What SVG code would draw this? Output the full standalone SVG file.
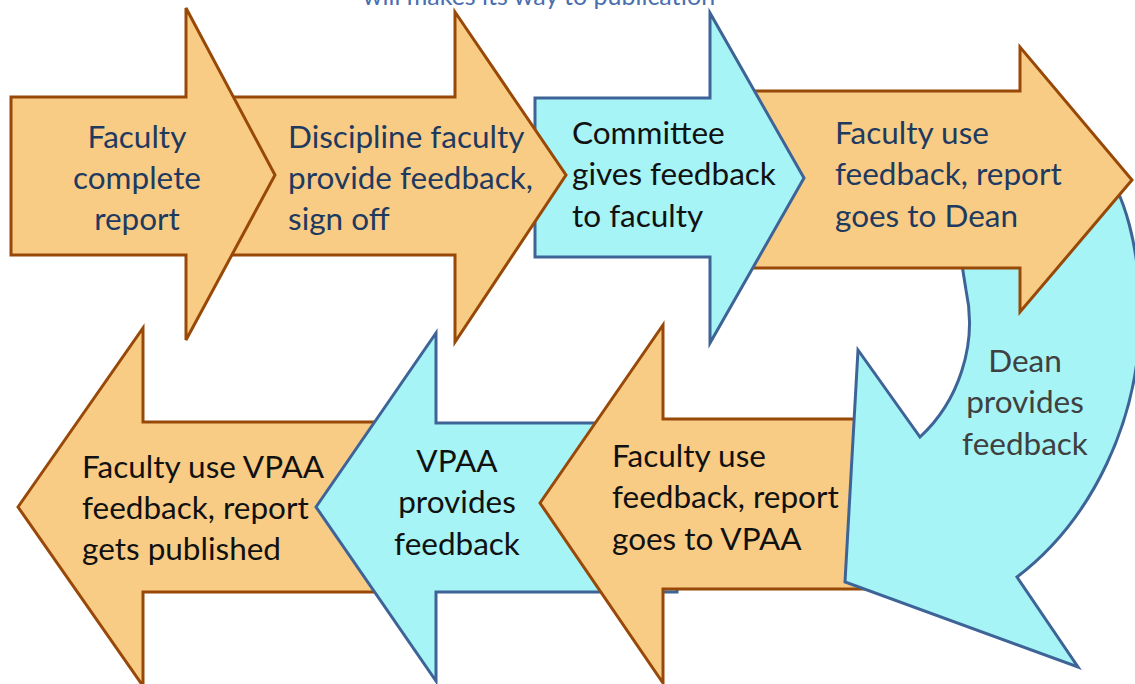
<svg xmlns="http://www.w3.org/2000/svg" width="1135" height="684" viewBox="0 0 1135 684">
<style>
.o{fill:#F9CC86;stroke:#984807;stroke-width:3;stroke-linejoin:miter}
.c{fill:#A6F4F5;stroke:#3E6497;stroke-width:3;stroke-linejoin:miter}
text{font-family:Lato,"Liberation Sans",sans-serif;font-size:31.5px}
.n{fill:#1F3A5F}
.k{fill:#111111}
.g{fill:#404040}
.m{text-anchor:middle}
</style>
<rect width="1135" height="684" fill="#FFFFFF"/>
<text x="539" y="5" fill="#4A6FAE" style="font-size:25px" text-anchor="middle">will makes its way to publication</text>
<g id="connectors"></g>
<g id="n5">
<path class="o" d="M18,507 L143,328 L143,422 L400,422 L400,592 L143,592 L143,686 Z"/>
<text class="k" x="82"><tspan x="82" y="478">Faculty use VPAA</tspan><tspan x="82" y="519">feedback, report</tspan><tspan x="82" y="560">gets published</tspan></text>
</g>
<g id="n6">
<path class="c" d="M316,507 L436,333 L436,423 L677,423 L677,592 L436,592 L436,681 Z"/>
<text class="k m"><tspan x="457" y="472">VPAA</tspan><tspan x="457" y="513">provides</tspan><tspan x="457" y="555">feedback</tspan></text>
</g>
<g id="n7">
<path class="o" d="M540,503 L663,325 L663,419 L880,419 L880,589 L663,589 L663,683 Z"/>
<text class="k"><tspan x="612" y="467">Faculty use</tspan><tspan x="612" y="508">feedback, report</tspan><tspan x="612" y="550">goes to VPAA</tspan></text>
</g>
<g id="n_dean">
<path class="c" d="M1017,577 L1078,667 L845,582 L858,350 L920,437 C958,402 978,345 966,290 L958,240 L1060,150 L1100,165 C1125,190 1140,250 1140,315 C1140,420 1092,520 1017,577 Z"/>
<text class="g m"><tspan x="1025" y="372">Dean</tspan><tspan x="1025" y="413">provides</tspan><tspan x="1025" y="455">feedback</tspan></text>
</g>
<g id="n4">
<path class="o" d="M740,91 L1020,91 L1020,47 L1132,180 L1020,312 L1020,268 L740,268 Z"/>
<text class="n"><tspan x="835" y="144">Faculty use</tspan><tspan x="835" y="185">feedback, report</tspan><tspan x="835" y="227">goes to Dean</tspan></text>
</g>
<g id="n3">
<path class="c" d="M535,98 L710,98 L710,13 L804,178 L710,343 L710,257 L535,257 Z"/>
<text class="k"><tspan x="572" y="144">Committee</tspan><tspan x="572" y="185">gives feedback</tspan><tspan x="572" y="227">to faculty</tspan></text>
</g>
<g id="n2">
<path class="o" d="M200,97 L455,97 L455,12 L566,175 L455,342 L455,255 L200,255 Z"/>
<text class="n"><tspan x="288" y="148">Discipline faculty</tspan><tspan x="288" y="189">provide feedback,</tspan><tspan x="288" y="230">sign off</tspan></text>
</g>
<g id="n1">
<path class="o" d="M11,97 L186,97 L186,8 L275,175 L186,340 L186,255 L11,255 Z"/>
<text class="n m"><tspan x="137" y="148">Faculty</tspan><tspan x="137" y="189">complete</tspan><tspan x="137" y="230">report</tspan></text>
</g>
</svg>
